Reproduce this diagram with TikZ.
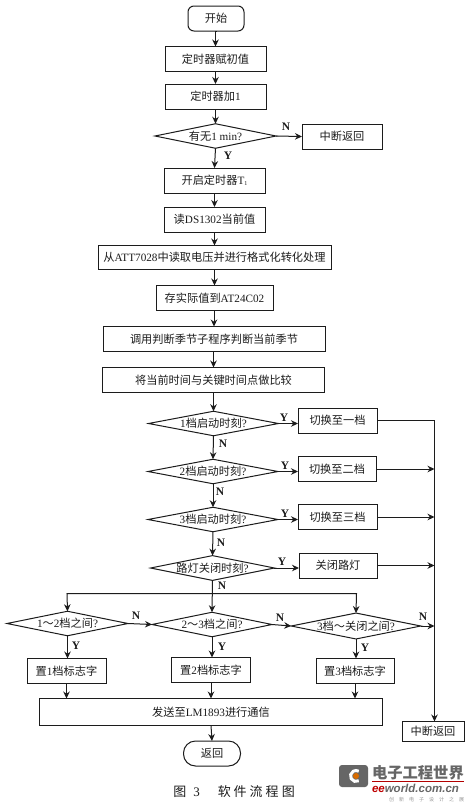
\documentclass[tikz,border=0pt]{standalone}
\usepackage{fontspec}
\setmainfont{Liberation Serif}
\newfontfamily\cjk{Noto Sans CJK SC}
\newfontfamily\eefont{Liberation Sans}
\usetikzlibrary{shapes.geometric,arrows.meta}
\definecolor{ink}{HTML}{1c1c1c}
\tikzset{
  x=1pt,y=-1pt,
  every node/.style={text=ink,font=\cjk\fontsize{11.2}{13}\selectfont,inner sep=0pt,outer sep=0pt},
  flowbox/.style={draw=ink,line width=1pt,rectangle,minimum width=#1,minimum height=25pt},
  flowbox/.default=100pt,
  decide/.style={draw=ink,line width=1pt,diamond,aspect=5,minimum width=#1,minimum height=24.5pt,inner sep=0pt},
  terminal/.style={draw=ink,line width=1pt,rectangle,rounded corners=#1,minimum width=56pt,minimum height=25pt},
  lab/.style={font=\fontsize{11.5}{13}\selectfont\bfseries},
  flow/.style={draw=ink,line width=1pt,-{Stealth[length=7pt,width=6.5pt]}},
  plainline/.style={draw=ink,line width=1pt},
}
\newcommand{\latin}[1]{{\fontspec{Liberation Serif}#1}}
\begin{document}
\begin{tikzpicture}
\useasboundingbox (0,0) rectangle (465,804);
\fill[white] (0,0) rectangle (465,804);

\node[terminal=6pt,minimum width=56pt] (start) at (216,18.5) {开始};
\node[flowbox=101pt] (b1) at (215.5,59) {定时器赋初值};
\node[flowbox=101pt] (b2) at (215.5,96.5) {定时器加\latin{1}};
\node[decide=121pt] (d0) at (215.5,136) {有无\latin{1 min?}};
\node[flowbox=80pt] (r0) at (342,136.5) {中断返回};
\node[flowbox=101pt] (b3) at (214.5,180.5) {开启定时器\latin{T}\raisebox{-1.5pt}{\fontsize{6}{6}\selectfont\latin{1}}};
\node[flowbox=101pt] (b4) at (214.5,219.5) {读\latin{DS1302}当前值};
\node[flowbox=233pt,minimum height=24pt] (b5) at (214.5,257.5) {从\latin{ATT7028}中读取电压并进行格式化转化处理};
\node[flowbox=117pt] (b6) at (214.5,298) {存实际值到\latin{AT24C02}};
\node[flowbox=222pt] (b7) at (214,339) {调用判断季节子程序判断当前季节};
\node[flowbox=222pt] (b8) at (213.5,380) {将当前时间与关键时间点做比较};

\node[decide=130pt] (d1) at (213.5,423.5) {\latin{1}档启动时刻\latin{?}};
\node[flowbox=79pt] (s1) at (337.5,420.5) {切换至一档};
\node[decide=130pt] (d2) at (213,471.5) {\latin{2}档启动时刻\latin{?}};
\node[flowbox=78pt] (s2) at (337,469) {切换至二档};
\node[decide=130pt] (d3) at (213,519.5) {\latin{3}档启动时刻\latin{?}};
\node[flowbox=79pt] (s3) at (337.5,517) {切换至三档};
\node[decide=121pt] (d4) at (212.5,568) {路灯关闭时刻\latin{?}};
\node[flowbox=78pt] (s4) at (338,565.5) {关闭路灯};

\node[decide=121pt] (q1) at (67.5,623.5) {\latin{1}～\latin{2}档之间\latin{?}};
\node[decide=120pt] (q2) at (212,624.5) {\latin{2}～\latin{3}档之间\latin{?}};
\node[decide=122pt] (q3) at (356,626) {\latin{3}档～关闭之间\latin{?}};
\node[flowbox=79pt] (f1) at (66.5,671) {置\latin{1}档标志字};
\node[flowbox=79pt] (f2) at (211,670) {置\latin{2}档标志字};
\node[flowbox=78pt] (f3) at (355,671) {置\latin{3}档标志字};
\node[flowbox=343pt,minimum height=27pt] (send) at (211,712) {发送至\latin{LM1893}进行通信};
\node[terminal=12pt,minimum width=57pt] (ret) at (212,753.5) {返回};
\node[flowbox=62pt,minimum height=20pt] (r1) at (433,731.5) {中断返回};

\coordinate (bus) at (434.5,420.5);
\coordinate (split) at (212,593.5);
\coordinate (splitL) at (67,593.5);
\coordinate (splitR) at (356.5,593.5);

\foreach \a/\b in {start/b1,b1/b2,b2/d0,b3/b4,b4/b5,b5/b6,b6/b7,b7/b8,b8/d1}
  \draw[flow] (\a.south) -- (\a.south-|\b.north) -- (\b.north);
\draw[flow] (d0.south) -- (b3.north);
\draw[flow] (d0.east) -- (r0.west);
\node[lab] at (286,127) {N};
\node[lab] at (228,156) {Y};

\draw[flow] (d1.south) -- (d2.north);
\draw[flow] (d2.south) -- (d3.north);
\draw[flow] (d3.south) -- (d4.north);
\node[lab] at (223,444) {N};
\node[lab] at (220,492) {N};
\node[lab] at (221,543) {N};

\foreach \d/\s in {d1/s1,d2/s2,d3/s3,d4/s4}
  \draw[flow] (\d.east) -- (\d.east-|\s.west);
\node[lab] at (284,418) {Y};
\node[lab] at (285,466) {Y};
\node[lab] at (285,513.5) {Y};
\node[lab] at (282,562) {Y};

\draw[plainline] (s1.east) -- (bus);
\draw[flow] (bus) -- (r1.north-|bus);
\foreach \s in {s2,s3,s4}
  \draw[flow] (\s.east) -- (\s.east-|bus);

\draw[flow] (d4.south) -- (q2.north);
\draw[flow] (split) -- (splitL) -- (q1.north);
\draw[flow] (split) -- (splitR) -- (q3.north);
\node[lab] at (222,586) {N};

\draw[flow] (q1.east) -- (q2.west);
\draw[flow] (q2.east) -- (q3.west);
\draw[flow] (q3.east) -- (q3.east-|bus);
\node[lab] at (136,615.5) {N};
\node[lab] at (280,617.5) {N};
\node[lab] at (423,617) {N};

\foreach \q/\f in {q1/f1,q2/f2,q3/f3}
  \draw[flow] (\q.south) -- (\q.south|-\f.north);
\node[lab] at (76,646) {Y};
\node[lab] at (222,647) {Y};
\node[lab] at (365,648) {Y};

\foreach \f in {f1,f2,f3}
  \draw[flow] (\f.south) -- (\f.south|-send.north);
\draw[flow] (send.south) -- (ret.north);

\node[font=\cjk\fontsize{13}{15}\selectfont] (cap) at (234,792) {图\hspace{7pt}\latin{3}\hspace{18pt}软\hspace{3pt}件\hspace{3pt}流\hspace{3pt}程\hspace{3pt}图};

% watermark
\fill[black!60,rounded corners=3pt] (339,765) rectangle (368,787);
\draw[white,line width=3pt] (358.75,780.76) arc (60:300:5.5);
\fill[orange!85!black] (356,776) circle (3);
\node[font=\cjk\bfseries\fontsize{15.3}{16}\selectfont,text=black!60,anchor=west] (wm1) at (372,772.5) {电子工程世界};
\draw[red!70!black,line width=.8pt] (372,781) -- (464,781);
\node[font=\eefont\bfseries\itshape\fontsize{11.5}{13}\selectfont,text=black!60,anchor=west] (wm2) at (372,788) {\textcolor{red!75!black}{ee}world.com.cn};
\node[font=\cjk\fontsize{5}{6}\selectfont,text=black!40,anchor=east] (wm3) at (464,799.5) {创\hspace{5pt}新\hspace{5pt}电\hspace{5pt}子\hspace{5pt}设\hspace{5pt}计\hspace{5pt}之\hspace{5pt}展};
\end{tikzpicture}
\end{document}
